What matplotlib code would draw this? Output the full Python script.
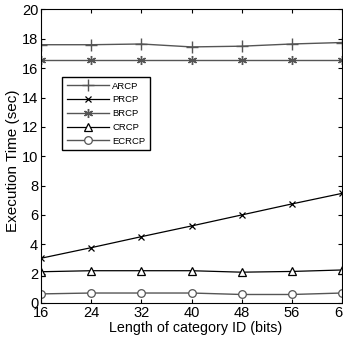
import numpy as np
import matplotlib.pyplot as plt

plt.rcParams['font.family'] = ['Liberation Sans', 'DejaVu Sans']

# data
bits = [16, 24, 32, 40, 48, 56, 64]
arcp = [17.6, 17.6, 17.65, 17.45, 17.5, 17.65, 17.75]
prcp = [3.05, 3.77, 4.52, 5.25, 6.0, 6.75, 7.47]
brcp = [16.55, 16.55, 16.55, 16.55, 16.55, 16.55, 16.55]
crcp = [2.13, 2.2, 2.2, 2.2, 2.1, 2.15, 2.25]
ecrcp = [0.62, 0.68, 0.68, 0.68, 0.58, 0.58, 0.68]

fig = plt.figure(figsize=(3.43, 3.39), dpi=100)
ax = fig.add_axes([41/343, 1 - 303/339, 301/343, 293.5/339])

gray = '#555555'
ax.plot(bits, arcp, color=gray, lw=1, marker='+', ms=8, mew=1, label='ARCP')
ax.plot(bits, prcp, color='black', lw=0.9, marker='x', ms=5, mew=0.9, label='PRCP')
ax.plot(bits, brcp, color=gray, lw=1, marker=(6, 2, 0), ms=6.5, mew=1, label='BRCP')
ax.plot(bits, crcp, color='black', lw=0.9, marker='^', ms=6, mfc='white', mew=0.9, label='CRCP')
ax.plot(bits, ecrcp, color=gray, lw=1, marker='o', ms=5.5, mfc='white', mew=0.9, label='ECRCP')

ax.set_xlim(16, 64)
ax.set_ylim(0, 20)
ax.set_xticks(bits)
ax.set_yticks(np.arange(0, 21, 2))
ax.tick_params(direction='in', top=True, right=True, length=3, labelsize=10.5, pad=2)
ax.set_xlabel('Length of category ID (bits)', fontsize=10.3)
ax.set_ylabel('Execution Time (sec)', fontsize=11)
ax.xaxis.set_label_coords(0.515, -0.062)
ax.yaxis.set_label_coords(-0.071, 0.484)

leg = ax.legend(loc='upper left', bbox_to_anchor=(0.07, 0.77), borderaxespad=0,
                fontsize=6.8, fancybox=False, edgecolor='black', framealpha=1,
                handlelength=4.5, borderpad=0.5, labelspacing=0.5, handletextpad=0.3)
leg.get_frame().set_linewidth(1)

fig.savefig('out.png', dpi=100)
